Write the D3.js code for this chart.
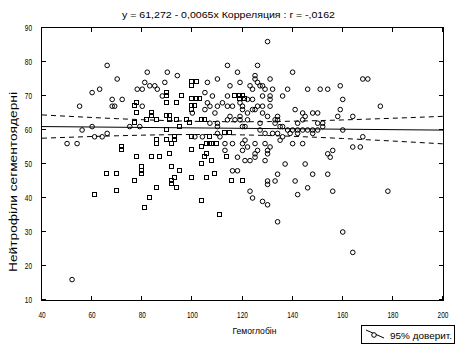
<!DOCTYPE html>
<html>
<head>
<meta charset="utf-8">
<script src="https://cdn.jsdelivr.net/npm/d3@7/dist/d3.min.js"></script>
<style>
  html, body { margin: 0; padding: 0; background: #fff; }
  svg { display: block; }
  text { font-family: "Liberation Sans", Arial, sans-serif; fill: #000; }
</style>
</head>
<body>
<svg id="chart" width="458" height="344"></svg>
<script>
// Hemoglobin (x) vs segmented neutrophils (y), two marker groups
const circlePoints = [
  [66,79],[82,77],[90,77],[94,76],[70,75],[81,74],[83,73],[85,73],[89,74],[86,72],[78,72],[80,72],
  [60,71],[63,72],[68,69],[72,69],[68,67],[69,67],[55,67],[88,70],[80,67],[56,60],[60,61],[75,61],
  [79,61],[50,56],[54,56],[61,58],[64,58],[66,59],[52,16],
  [130,86],[114,79],[126,79],[118,77],[140,77],[125,76],[125,75],[110,75],[106,74],[126,74],[127,73],
  [128,73],[131,75],[115,73],[119,74],[123,73],[124,72],[132,72],[129,72],[105,71],[108,70],[138,72],
  [146,72],[151,72],[114,70],[122,69],[124,69],[128,70],[131,70],[131,69],[136,70],[106,68],[107,67],
  [110,67],[112,68],[114,67],[116,67],[119,68],[120,67],[126,67],[128,67],[131,67],[125,66],[100,65],
  [105,66],[109,65],[120,66],[122,65],[128,65],[141,66],[145,64],[148,65],[150,65],[134,64],[130,64],
  [115,64],[119,64],[124,66],[133,63],[144,65],[107,62],[110,61],[110,62],[114,63],[117,63],[119,63],
  [122,63],[127,62],[134,63],[133,62],[142,62],[144,63],[135,61],[136,61],[138,60],[140,60],[142,60],
  [144,60],[148,60],[120,61],[121,61],[127,60],[129,59],[132,59],[134,59],[136,58],[110,59],[111,58],
  [101,58],[104,58],[142,59],[139,59],
  [121,57],[120,56],[135,57],[113,56],[116,56],[122,55],[125,56],[129,56],[131,55],[140,56],[144,56],
  [113,54],[120,54],[126,54],[118,52],[121,51],[123,51],[125,53],[125,52],[130,54],[130,53],[129,51],
  [137,50],[145,50],[116,48],[118,48],[134,47],[148,47],[130,45],[130,44],[133,45],[141,45],[146,43],
  [123,42],[142,41],[124,40],[128,39],[130,38],[134,33],
  [159,66],[158,64],[164,64],[175,67],[150,62],[152,62],[146,60],[150,60],[152,61],[160,60],[148,59],
  [168,58],[164,55],[167,55],[154,53],[156,54],[168,75],[170,75],[154,72],[159,73],[160,69],[155,52],
  [154,47],[156,42],[178,42],[160,30],[164,24]
];

const squarePoints = [
  [90,71],[90,70],[90,68],[94,68],[78,68],[77,67],[78,65],[84,65],[84,64],[86,63],[90,64],[91,64],
  [91,63],[94,63],[82,63],[77,62],[90,60],[95,61],[72,55],[72,54],[86,57],[86,56],[90,57],[93,57],
  [92,56],[78,52],[84,52],[87,52],[91,53],[80,49],[80,48],[80,47],[92,49],[95,48],[66,47],[70,47],
  [77,45],[92,45],[92,44],[93,46],[94,43],[86,43],[70,42],[61,41],[83,40],[81,37],
  [98,63],[99,62],[104,63],[105,63],[100,74],[100,73],[102,74],[96,70],[100,69],[102,69],[103,69],
  [100,67],[101,67],[100,66],[117,70],[119,70],[120,70],[121,69],[119,69],[100,58],[113,59],[115,59],
  [107,58],[104,55],[106,56],[107,56],[108,56],[110,56],[100,54],[106,53],[105,52],[108,51],[114,52],
  [104,50],[100,46],[106,46],[109,47],[116,45],[120,45],[104,39],[111,35],[93,58]
];

// Linear fit y = a + b*x
const intercept = 61.272;
const slope = -0.0065;
const corrR = "-,0162";

// 95% confidence band of the fit
const bandX     = [40, 50, 60, 70, 80, 90, 100, 110, 120, 130, 140, 150, 160, 170, 180, 190, 200];
const bandUpper = [64.44, 64.05, 63.68, 63.33, 63.03, 62.77, 62.57, 62.46, 62.43, 62.47, 62.59, 62.76, 62.96, 63.20, 63.46, 63.73, 64.02];
const bandLower = [57.58, 57.84, 58.09, 58.30, 58.48, 58.61, 58.67, 58.66, 58.56, 58.38, 58.14, 57.84, 57.50, 57.13, 56.75, 56.34, 55.93];

const xTicks = [40, 60, 80, 100, 120, 140, 160, 180, 200];
const yTicks = [10, 20, 30, 40, 50, 60, 70, 80, 90];

const titleText = "y = 61,272 - 0,0065x  Корреляция : r = " + corrR;
const xLabel = "Гемоглобін";
const yLabel = "Нейтрофіли сегментоядерні";
const legendLabel = "95% доверит.";

const svg = d3.select("#chart");
const x = d3.scaleLinear().domain([40, 200]).range([42, 443]);
const y = d3.scaleLinear().domain([10, 90]).range([300, 28]);

const [x0, x1] = x.range();
const [y0, y1] = y.range();

// plot frame
svg.append("rect")
  .attr("x", x0 - 0.5).attr("y", y1 - 0.5)
  .attr("width", x1 - x0 + 1).attr("height", y0 - y1 + 1)
  .attr("fill", "none").attr("stroke", "#000").attr("stroke-width", 1)
  .attr("shape-rendering", "crispEdges");

// inward ticks on all four sides
const tickLen = 4;
const ticks = svg.append("g").attr("stroke", "#000").attr("shape-rendering", "crispEdges");
xTicks.forEach(v => {
  const px = Math.round(x(v)) - 0.5;
  ticks.append("line").attr("x1", px).attr("x2", px).attr("y1", y0).attr("y2", y0 - tickLen);
  ticks.append("line").attr("x1", px).attr("x2", px).attr("y1", y1).attr("y2", y1 + tickLen);
});
yTicks.forEach(v => {
  const py = Math.round(y(v)) - 0.5;
  ticks.append("line").attr("x1", x0).attr("x2", x0 + tickLen).attr("y1", py).attr("y2", py);
  ticks.append("line").attr("x1", x1).attr("x2", x1 - tickLen).attr("y1", py).attr("y2", py);
});

// tick labels (narrow digits)
const digitW = 3.6;
svg.append("g").selectAll("text").data(xTicks).join("text")
  .attr("x", d => x(d)).attr("y", 318)
  .attr("text-anchor", "middle").attr("font-size", 9)
  .attr("textLength", d => String(d).length * digitW).attr("lengthAdjust", "spacingAndGlyphs")
  .text(d => d);
svg.append("g").selectAll("text").data(yTicks).join("text")
  .attr("x", 32).attr("y", d => y(d) + 3)
  .attr("text-anchor", "end").attr("font-size", 9)
  .attr("textLength", d => String(d).length * digitW).attr("lengthAdjust", "spacingAndGlyphs")
  .text(d => d);

// title and axis titles
svg.append("text").attr("x", 228.5).attr("y", 18).attr("text-anchor", "middle")
  .attr("font-size", 9.5).attr("textLength", 213).attr("lengthAdjust", "spacingAndGlyphs")
  .text(titleText);
svg.append("text").attr("x", 254.5).attr("y", 334).attr("text-anchor", "middle")
  .attr("font-size", 9.5).attr("textLength", 44).attr("lengthAdjust", "spacingAndGlyphs")
  .text(xLabel);
svg.append("text").attr("transform", "translate(17,182) rotate(-90)").attr("text-anchor", "middle")
  .attr("font-size", 10).attr("textLength", 180).attr("lengthAdjust", "spacingAndGlyphs")
  .text(yLabel);

const plot = svg.append("g");

// confidence band
const bandLine = d3.line().x(d => x(d[0])).y(d => y(d[1])).curve(d3.curveMonotoneX);
[bandUpper, bandLower].forEach(vals => {
  plot.append("path")
    .attr("d", bandLine(bandX.map((v, i) => [v, vals[i]])))
    .attr("fill", "none").attr("stroke", "#000").attr("stroke-width", 1)
    .attr("stroke-dasharray", "5,4");
});

// regression line
const dom = x.domain();
plot.append("line")
  .attr("x1", x(dom[0])).attr("y1", y(intercept + slope * dom[0]))
  .attr("x2", x(dom[1])).attr("y2", y(intercept + slope * dom[1]))
  .attr("stroke", "#000").attr("stroke-width", 1);

// markers
plot.append("g").selectAll("circle").data(circlePoints).join("circle")
  .attr("cx", d => x(d[0])).attr("cy", d => y(d[1])).attr("r", 2.3)
  .attr("fill", "none").attr("stroke", "#000").attr("stroke-width", 1);
plot.append("g").selectAll("rect").data(squarePoints).join("rect")
  .attr("x", d => Math.round(x(d[0])) - 2.5).attr("y", d => Math.round(y(d[1])) - 2.5)
  .attr("width", 4).attr("height", 4)
  .attr("fill", "none").attr("stroke", "#000").attr("stroke-width", 1)
  .attr("shape-rendering", "crispEdges");

// legend
const lg = svg.append("g");
lg.append("rect").attr("x", 361.5).attr("y", 325.5).attr("width", 93).attr("height", 18)
  .attr("fill", "#fff").attr("stroke", "#000").attr("shape-rendering", "crispEdges");
lg.append("line").attr("x1", 366).attr("y1", 330).attr("x2", 384).attr("y2", 338)
  .attr("stroke", "#000");
lg.append("circle").attr("cx", 374).attr("cy", 335).attr("r", 2.3)
  .attr("fill", "#fff").attr("stroke", "#000");
lg.append("text").attr("x", 390).attr("y", 339).attr("font-size", 9.5)
  .attr("textLength", 62).attr("lengthAdjust", "spacingAndGlyphs")
  .text(legendLabel);
</script>
</body>
</html>
